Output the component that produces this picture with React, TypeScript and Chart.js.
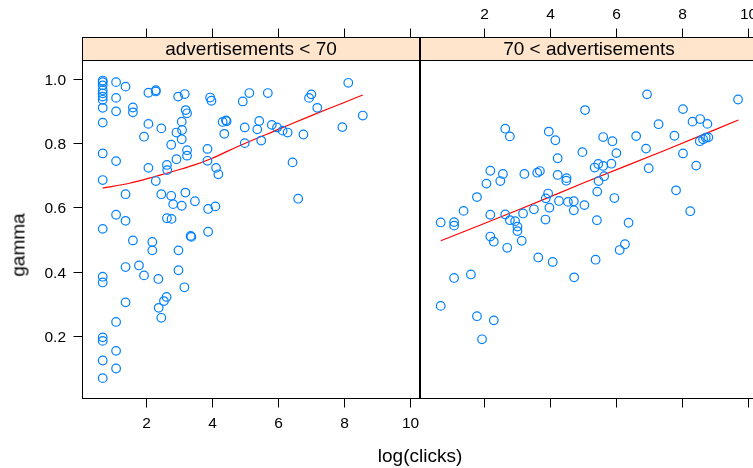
import React, { useEffect, useRef } from "react";
import { Chart, registerables } from "chart.js";
Chart.register(...registerables);

// ---------- data ----------
const xTicks = [2, 4, 6, 8, 10];
const yTicks = [0.2, 0.4, 0.6, 0.8, 1.0];
const panelLabels = ["advertisements < 70", "70 < advertisements"];
const xTitle = "log(clicks)";
const yTitle = "gamma";

// panel 1: advertisements < 70
const lowLogClicks = [
  0.693, 0.693, 0.693, 0.693, 0.693, 0.693, 0.693, 0.693, 0.693, 0.693, 0.693, 0.693, 0.693, 0.693, 0.693, 0.693, 0.693, 0.693,
  1.099, 1.099, 1.099, 1.099, 1.099, 1.099, 1.099, 1.099,
  1.386, 1.386, 1.386, 1.386, 1.386,
  1.609, 1.609, 1.609,
  1.792,
  1.946, 1.946,
  2.079, 2.079, 2.079,
  2.197, 2.197,
  2.303, 2.303, 2.303,
  2.39, 2.38, 2.47, 2.47, 2.47, 2.55, 2.63, 2.64, 2.65, 2.64, 2.77, 2.77, 2.78, 2.83, 2.93, 2.93, 2.98, 2.99, 2.99,
  3.09, 3.10, 3.09, 3.09, 3.17, 3.18, 3.20, 3.21, 3.25, 3.25, 3.25, 3.36, 3.38, 3.49, 3.87, 3.87, 3.89, 3.89, 3.95, 3.99,
  4.11, 4.13, 4.20, 4.33, 4.38, 4.43, 4.45, 4.94, 5.0, 5.0, 5.14, 5.38, 5.44, 5.5, 5.70, 5.82, 5.98, 6.15, 6.30, 6.45,
  6.62, 6.78, 6.95, 7.02, 7.2, 7.96, 8.14, 8.58,
];
const lowGamma = [
  0.995, 0.99, 0.98, 0.965, 0.955, 0.945, 0.935, 0.91, 0.864, 0.768, 0.685, 0.533, 0.384, 0.366, 0.195, 0.184, 0.123, 0.068,
  0.990, 0.941, 0.899, 0.744, 0.577, 0.243, 0.153, 0.098,
  0.976, 0.641, 0.558, 0.414, 0.304,
  0.911, 0.896, 0.497,
  0.419,
  0.820, 0.388,
  0.957, 0.860, 0.723,
  0.492, 0.466,
  0.961, 0.965, 0.682,
  0.287, 0.377, 0.846, 0.641, 0.256, 0.308, 0.321, 0.732, 0.716, 0.566, 0.795, 0.636, 0.564, 0.610, 0.750, 0.833, 0.945, 0.466, 0.404,
  0.867, 0.841, 0.812, 0.605, 0.351, 0.953, 0.646, 0.903, 0.893, 0.778, 0.761, 0.511, 0.508, 0.619, 0.782, 0.745, 0.524, 0.595, 0.942, 0.932,
  0.603, 0.723, 0.703, 0.866, 0.829, 0.871, 0.868, 0.930, 0.849, 0.800, 0.956, 0.843, 0.869, 0.808, 0.956, 0.857, 0.849, 0.839, 0.833, 0.740,
  0.627, 0.827, 0.941, 0.952, 0.910, 0.850, 0.988, 0.886,
];
const lowFitX = [0.693, 1.5, 2.3, 3.0, 3.5, 4.0, 4.5, 5.0, 6.0, 7.0, 8.0, 8.58];
const lowFitY = [0.66, 0.675, 0.697, 0.717, 0.733, 0.752, 0.776, 0.799, 0.842, 0.885, 0.926, 0.95];

// panel 2: 70 < advertisements
const highLogClicks = [
  0.693, 0.693, 1.099, 1.099, 1.099, 1.386, 1.609, 1.792, 1.792, 1.946, 2.079, 2.197, 2.197, 2.197, 2.303, 2.303,
  2.50, 2.58, 2.65, 2.65, 2.71, 2.79, 2.79, 2.95, 3.02, 3.02, 3.15, 3.19, 3.23, 3.52, 3.62, 3.65, 3.70, 3.87, 3.88,
  3.95, 3.97, 3.99, 4.09, 4.17, 4.24, 4.24, 4.28, 4.50, 4.51, 4.55, 4.73, 4.73, 4.74, 4.99, 5.05, 5.07, 5.36, 5.39,
  5.43, 5.44, 5.47, 5.48, 5.62, 5.62, 5.65, 5.87, 5.90, 5.96, 6.02, 6.12, 6.28, 6.39, 6.62, 6.92, 6.95, 7.0, 7.30,
  7.78, 7.83, 8.04, 8.04, 8.26, 8.33, 8.44, 8.55, 8.56, 8.65, 8.73, 8.78, 8.81, 9.71,
];
const highGamma = [
  0.553, 0.293, 0.554, 0.543, 0.380, 0.589, 0.391, 0.632, 0.261, 0.189, 0.674, 0.714, 0.577, 0.509, 0.248, 0.493,
  0.682, 0.704, 0.845, 0.578, 0.474, 0.821, 0.560, 0.557, 0.540, 0.526, 0.496, 0.581, 0.704, 0.594, 0.708, 0.444, 0.713, 0.562, 0.628,
  0.643, 0.836, 0.599, 0.430, 0.809, 0.753, 0.701, 0.620, 0.683, 0.691, 0.617, 0.619, 0.591, 0.382, 0.772, 0.607, 0.903, 0.724, 0.437,
  0.560, 0.649, 0.735, 0.682, 0.729, 0.819, 0.697, 0.736, 0.806, 0.629, 0.769, 0.467, 0.485, 0.552, 0.822, 0.783, 0.952, 0.722, 0.859,
  0.823, 0.653, 0.906, 0.768, 0.588, 0.867, 0.730, 0.806, 0.875, 0.812, 0.817, 0.860, 0.818, 0.936,
];
const highFitX = [0.693, 3.0, 5.07, 7.5, 9.72];
const highFitY = [0.496, 0.59, 0.678, 0.778, 0.872];

// ---------- layout / style ----------
const X_MIN = 0.065;
const X_MAX = 10.315;
const Y_MIN = 0.003;
const Y_MAX = 1.059;
const STRIP_TOP = 37;
const FONT = '"Liberation Sans", Arial, Helvetica, sans-serif';
const TICK_FONT = `15.5px ${FONT}`;
const LABEL_FONT = `19px ${FONT}`;
const POINT_COLOR = "#0080ff";
const STRIP_FILL = "#ffe5cc";

function makePanelPlugin(index: number) {
  return {
    id: "latticePanel" + index,
    afterDraw(chart: any) {
      const { ctx, chartArea, scales } = chart;
      const xs = scales.x;
      const ys = scales.y;
      const L = Math.round(chartArea.left) + 0.5;
      const R = Math.round(chartArea.right) - 0.5;
      const T = Math.round(chartArea.top) + 0.5;
      const B = Math.round(chartArea.bottom) - 0.5;
      ctx.save();
      ctx.lineWidth = 1;
      ctx.strokeStyle = "#000";
      // strip
      ctx.fillStyle = STRIP_FILL;
      ctx.fillRect(L, STRIP_TOP + 0.5, R - L, T - STRIP_TOP - 0.5);
      ctx.strokeRect(L, STRIP_TOP + 0.5, R - L, T - STRIP_TOP - 0.5);
      ctx.fillStyle = "#000";
      ctx.font = LABEL_FONT;
      ctx.textAlign = "center";
      ctx.textBaseline = "middle";
      ctx.fillText(panelLabels[index], (L + R) / 2, (STRIP_TOP + T) / 2 + 1);
      // panel border
      ctx.strokeRect(L, T, R - L, B - T);
      // x ticks top & bottom
      ctx.font = TICK_FONT;
      for (const t of xTicks) {
        const px = Math.round(xs.getPixelForValue(t)) + 0.5;
        ctx.beginPath();
        ctx.moveTo(px, STRIP_TOP + 0.5);
        ctx.lineTo(px, STRIP_TOP - 8.5);
        ctx.moveTo(px, B);
        ctx.lineTo(px, B + 9);
        ctx.stroke();
        ctx.textAlign = "center";
        ctx.textBaseline = "middle";
        if (index === 1) ctx.fillText(String(t), px, 15);
        else ctx.fillText(String(t), px, 424);
      }
      // y ticks (left panel)
      if (index === 0) {
        for (const t of yTicks) {
          const py = Math.round(ys.getPixelForValue(t)) + 0.5;
          ctx.beginPath();
          ctx.moveTo(L, py);
          ctx.lineTo(L - 9, py);
          ctx.stroke();
          ctx.textAlign = "right";
          ctx.textBaseline = "middle";
          ctx.fillText(t.toFixed(1), 66, py + 1);
        }
      }
      ctx.restore();
    },
  };
}

function buildConfig(index: number, xsArr: number[], ysArr: number[], fx: number[], fy: number[], padding: any) {
  return {
    type: "scatter" as const,
    data: {
      datasets: [
        {
          type: "scatter" as const,
          data: xsArr.map((x, i) => ({ x, y: ysArr[i] })),
          pointStyle: "circle",
          pointRadius: 4.3,
          pointBorderWidth: 1.2,
          borderColor: POINT_COLOR,
          pointBorderColor: POINT_COLOR,
          backgroundColor: "rgba(0,0,0,0)",
          pointBackgroundColor: "rgba(0,0,0,0)",
        },
        {
          type: "line" as const,
          data: fx.map((x, i) => ({ x, y: fy[i] })),
          borderColor: "#ff0000",
          borderWidth: 1.2,
          pointRadius: 0,
          fill: false,
          cubicInterpolationMode: "monotone" as const,
        },
      ],
    },
    options: {
      animation: false as const,
      responsive: false,
      maintainAspectRatio: false,
      devicePixelRatio: 1,
      layout: { padding, autoPadding: false },
      plugins: { legend: { display: false }, tooltip: { enabled: false }, title: { display: false } },
      scales: {
        x: { type: "linear" as const, min: X_MIN, max: X_MAX, display: false },
        y: { type: "linear" as const, min: Y_MIN, max: Y_MAX, display: false },
      },
    },
    plugins: [makePanelPlugin(index)],
  };
}

export default function App() {
  const leftRef = useRef<HTMLCanvasElement>(null);
  const rightRef = useRef<HTMLCanvasElement>(null);

  useEffect(() => {
    const c1 = new Chart(
      leftRef.current as HTMLCanvasElement,
      buildConfig(0, lowLogClicks, lowGamma, lowFitX, lowFitY, { left: 82, right: 1, top: 60, bottom: 69 }) as any
    );
    const c2 = new Chart(
      rightRef.current as HTMLCanvasElement,
      buildConfig(1, highLogClicks, highGamma, highFitX, highFitY, { left: 0, right: 2, top: 60, bottom: 69 }) as any
    );
    return () => {
      c1.destroy();
      c2.destroy();
    };
  }, []);

  return (
    <div
      style={{
        position: "fixed",
        left: 0,
        top: 0,
        width: 753,
        height: 468,
        overflow: "hidden",
        background: "#fff",
        fontFamily: FONT,
      }}
    >
      <canvas ref={leftRef} width={421} height={468} style={{ position: "absolute", left: 0, top: 0, width: 421, height: 468 }} />
      <canvas ref={rightRef} width={340} height={468} style={{ position: "absolute", left: 420, top: 0, width: 340, height: 468 }} />
      <div
        style={{
          position: "absolute",
          left: 18,
          top: 245,
          transform: "translate(-50%, -50%) rotate(-90deg)",
          fontSize: 19,
          lineHeight: 1,
          whiteSpace: "nowrap",
          color: "#000",
        }}
      >
        {yTitle}
      </div>
      <div
        style={{
          position: "absolute",
          left: 420,
          top: 455,
          transform: "translate(-50%, -50%)",
          fontSize: 19,
          lineHeight: 1,
          whiteSpace: "nowrap",
          color: "#000",
        }}
      >
        {xTitle}
      </div>
    </div>
  );
}
